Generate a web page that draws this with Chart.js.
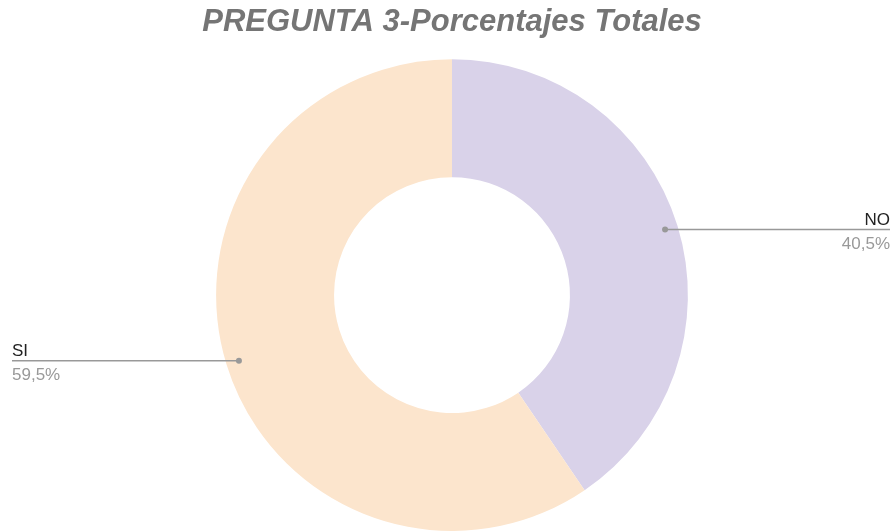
<!DOCTYPE html>
<html>
<head>
<meta charset="utf-8">
<script src="https://cdn.jsdelivr.net/npm/chart.js@4/dist/chart.umd.min.js"></script>
<style>
  html, body { margin: 0; padding: 0; background: #fff; }
  #wrap { width: 895px; height: 531px; }
</style>
</head>
<body>
<div id="wrap"><canvas id="canvas-chart"></canvas></div>
<script>
var labels = ['NO', 'SI'];
var values = [40.5, 59.5];
var colors = ['#d9d2e9', '#fce5cd'];

// leader lines with label + percentage at the chart edges
var leaderPlugin = {
    id: 'leaders',
    afterDatasetsDraw: function (chart) {
        var ctx = chart.ctx;
        var meta = chart.getDatasetMeta(0);
        var total = values.reduce(function (a, b) { return a + b; }, 0);

        meta.data.forEach(function (arc, i) {
            var mid = (arc.startAngle + arc.endAngle) / 2;
            var r = arc.outerRadius * 0.945;
            var px = arc.x + Math.cos(mid) * r;
            var py = arc.y + Math.sin(mid) * r;
            var right = Math.cos(mid) >= 0;
            var ex = right ? chart.width - 5 : 12;
            var pct = (values[i] / total * 100).toFixed(1).replace('.', ',') + '%';

            ctx.save();
            ctx.strokeStyle = '#999999';
            ctx.lineWidth = 1.5;
            ctx.beginPath();
            ctx.moveTo(px, py);
            ctx.lineTo(ex, py);
            ctx.stroke();

            ctx.fillStyle = '#999999';
            ctx.beginPath();
            ctx.arc(px, py, 3, 0, Math.PI * 2);
            ctx.fill();

            ctx.font = '17px "Liberation Sans", Arial, sans-serif';
            ctx.textAlign = right ? 'right' : 'left';
            ctx.textBaseline = 'alphabetic';
            ctx.fillStyle = '#222222';
            ctx.fillText(labels[i], ex, py - 5);
            ctx.fillStyle = '#999999';
            ctx.fillText(pct, ex, py + 19);
            ctx.restore();
        });
    }
};

var chart = new Chart(document.getElementById('canvas-chart').getContext('2d'), {
    type: 'doughnut',
    data: {
        'labels': labels,
        'datasets': [{
            'data': values,
            'backgroundColor': colors,
            'borderWidth': 0,
        }],
    },
    options: {
        responsive: true,
        maintainAspectRatio: false,
        animation: false,
        cutout: '50%',
        layout: { padding: { left: 9 } },
        plugins: {
            legend: { display: false },
            tooltip: { enabled: false },
            title: {
                display: true,
                text: 'PREGUNTA 3-Porcentajes Totales',
                color: '#757575',
                font: { family: '"Liberation Sans", Arial, sans-serif', size: 31, weight: 'bold', style: 'italic', lineHeight: 1.2 },
                padding: { top: 4, bottom: 18 },
            },
        },
    },
    plugins: [leaderPlugin],
});
</script>
</body>
</html>
